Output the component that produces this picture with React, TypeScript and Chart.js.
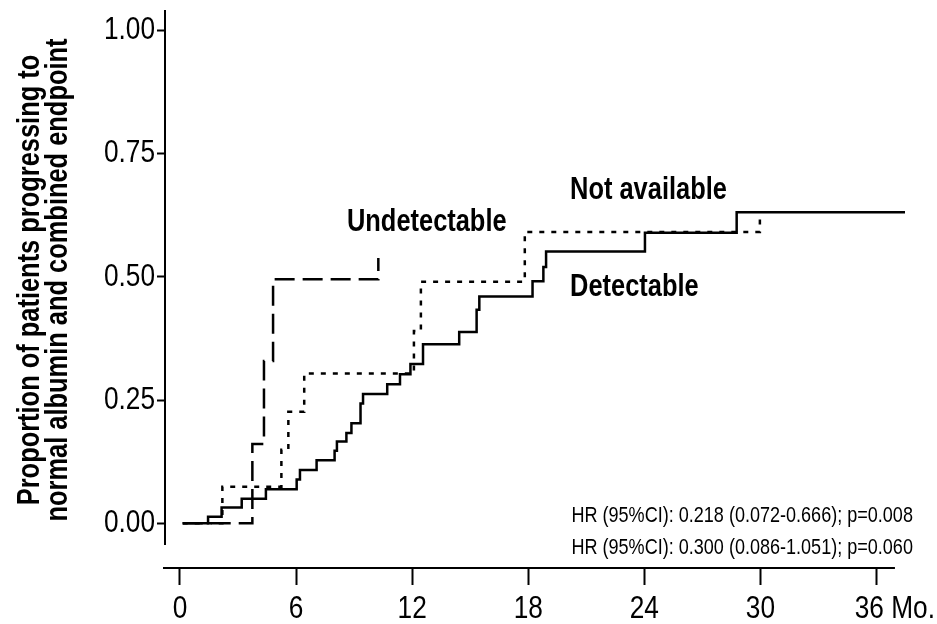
import React, { useEffect, useRef } from 'react';
import { Chart, registerables } from 'chart.js';

Chart.register(...registerables);

// ---- Data ----
const xTicks = [0, 6, 12, 18, 24, 30, 36];
const yTicks = [0, 0.25, 0.5, 0.75, 1.0];
const xTickLabels = ['0', '6', '12', '18', '24', '30', '36 Mo.'];

const detectableMonths = [0.14, 1.45, 2.15, 3.19, 4.44, 6.03, 6.2, 7.06, 7.99, 8.11, 8.6, 8.86, 9.33, 9.46, 10.71, 11.37, 11.91, 12.56, 14.43, 15.33, 15.47, 18.22, 18.78, 18.92, 24.03, 28.77, 37.47];
const detectableProp = [0, 0.013, 0.032, 0.05, 0.069, 0.089, 0.108, 0.128, 0.147, 0.166, 0.183, 0.203, 0.243, 0.262, 0.282, 0.302, 0.323, 0.363, 0.388, 0.433, 0.46, 0.491, 0.52, 0.551, 0.589, 0.631, 0.631];

const undetectableMonths = [0.14, 3.74, 4.34, 4.81, 10.25];
const undetectableProp = [0, 0.161, 0.329, 0.495, 0.538];

const notAvailableMonths = [0.14, 2.19, 5.24, 5.6, 6.42, 12.09, 12.45, 17.82, 29.97];
const notAvailableProp = [0, 0.074, 0.149, 0.226, 0.304, 0.39, 0.49, 0.591, 0.619];

const yTitleLines = ['Proportion of patients progressing to', 'normal albumin and combined endpoint'];
const hrLines = ['HR (95%CI): 0.218 (0.072-0.666); p=0.008', 'HR (95%CI): 0.300 (0.086-1.051); p=0.060'];

// label anchors in data units
const seriesLabels = [
  { text: 'Undetectable', x: 8.63, y: 0.611 },
  { text: 'Not available', x: 20.16, y: 0.676 },
  { text: 'Detectable', x: 20.16, y: 0.479 },
];
const hrAnchor = { x: 37.88, y1: 0.015, y2: -0.05 };

const toXY = (xs: number[], ys: number[]) => xs.map((x, i) => ({ x, y: ys[i] }));

const FAMILY = '"Liberation Sans", Arial, sans-serif';
const NARROW = 0.82;

function drawText(ctx: CanvasRenderingContext2D, text: string, x: number, y: number, font: string, align: CanvasTextAlign, rotate = 0) {
  ctx.save();
  ctx.translate(x, y);
  if (rotate) ctx.rotate(rotate);
  ctx.scale(NARROW, 1);
  ctx.font = font;
  ctx.fillStyle = '#000';
  ctx.textAlign = align;
  ctx.textBaseline = 'middle';
  ctx.fillText(text, 0, 0);
  ctx.restore();
}

const annotations = {
  id: 'annotations',
  afterDraw(chart: any) {
    const ctx: CanvasRenderingContext2D = chart.ctx;
    const xs = chart.scales.x;
    const ys = chart.scales.y;
    const area = chart.chartArea;
    ctx.save();
    ctx.strokeStyle = '#000';
    ctx.lineWidth = 2;
    // y axis line
    ctx.beginPath();
    ctx.moveTo(area.left, area.top);
    ctx.lineTo(area.left, ys.getPixelForValue(-0.044));
    ctx.stroke();
    // x axis line
    ctx.beginPath();
    ctx.moveTo(area.left - 2, area.bottom);
    ctx.lineTo(xs.getPixelForValue(36.95), area.bottom);
    ctx.stroke();
    ctx.restore();

    const tickFont = `32px ${FAMILY}`;
    yTicks.forEach((v) => {
      drawText(ctx, v.toFixed(2), area.left - 10, ys.getPixelForValue(v), tickFont, 'right');
    });
    xTicks.forEach((v, i) => {
      const px = xs.getPixelForValue(v);
      if (i === xTicks.length - 1) {
        // last label carries the unit and sits at the right edge
        drawText(ctx, xTickLabels[i], chart.width - 2, 609, tickFont, 'right');
      } else {
        drawText(ctx, xTickLabels[i], px, 609, tickFont, 'center');
      }
    });

    // y title
    const titleFont = `bold 31px ${FAMILY}`;
    drawText(ctx, yTitleLines[0], 30, 280, titleFont, 'center', -Math.PI / 2);
    drawText(ctx, yTitleLines[1], 58, 280, titleFont, 'center', -Math.PI / 2);

    // series labels
    const labFont = `bold 31px ${FAMILY}`;
    seriesLabels.forEach((l) => {
      drawText(ctx, l.text, xs.getPixelForValue(l.x), ys.getPixelForValue(l.y), labFont, 'left');
    });

    // HR text
    const hrFont = `22px ${FAMILY}`;
    drawText(ctx, hrLines[0], xs.getPixelForValue(hrAnchor.x), ys.getPixelForValue(hrAnchor.y1), hrFont, 'right');
    drawText(ctx, hrLines[1], xs.getPixelForValue(hrAnchor.x), ys.getPixelForValue(hrAnchor.y2), hrFont, 'right');
  },
};

export default function App() {
  const ref = useRef<HTMLCanvasElement | null>(null);
  useEffect(() => {
    if (!ref.current) return;
    const common = { pointRadius: 0, borderColor: '#000', borderWidth: 2.5, stepped: 'before' as const, fill: false, clip: false as any };
    const chart = new Chart(ref.current, {
      type: 'line',
      data: {
        datasets: [
          { ...common, label: 'Detectable', data: toXY(detectableMonths, detectableProp) },
          { ...common, label: 'Undetectable', data: toXY(undetectableMonths, undetectableProp), borderDash: [20, 8] },
          { ...common, label: 'Not available', data: toXY(notAvailableMonths, notAvailableProp), borderDash: [5, 7] },
        ],
      },
      options: {
        animation: false,
        responsive: false,
        devicePixelRatio: 1,
        layout: { padding: { left: 0, right: 32, top: 10, bottom: 0 } },
        plugins: { legend: { display: false }, tooltip: { enabled: false } },
        scales: {
          x: {
            type: 'linear',
            min: -0.775,
            max: 37.47,
            afterBuildTicks: (s: any) => { s.ticks = xTicks.map((v) => ({ value: v })); },
            afterFit: (s: any) => { s.height = 56; },
            border: { display: false },
            grid: { drawOnChartArea: false, drawTicks: true, tickLength: 17, tickWidth: 2, tickColor: '#000' },
            ticks: { display: false },
          },
          y: {
            type: 'linear',
            min: -0.0907,
            max: 1.041,
            afterBuildTicks: (s: any) => { s.ticks = yTicks.map((v) => ({ value: v })); },
            afterFit: (s: any) => { s.width = 165; },
            border: { display: false },
            grid: { drawOnChartArea: false, drawTicks: true, tickLength: 8, tickWidth: 2, tickColor: '#000' },
            ticks: { display: false },
          },
        },
      },
      plugins: [annotations],
    });
    return () => chart.destroy();
  }, []);
  return (
    <div style={{ position: 'fixed', left: 0, top: 0, width: 937, height: 624, background: '#fff' }}>
      <canvas ref={ref} width={937} height={624} style={{ width: 937, height: 624, display: 'block' }} />
    </div>
  );
}
